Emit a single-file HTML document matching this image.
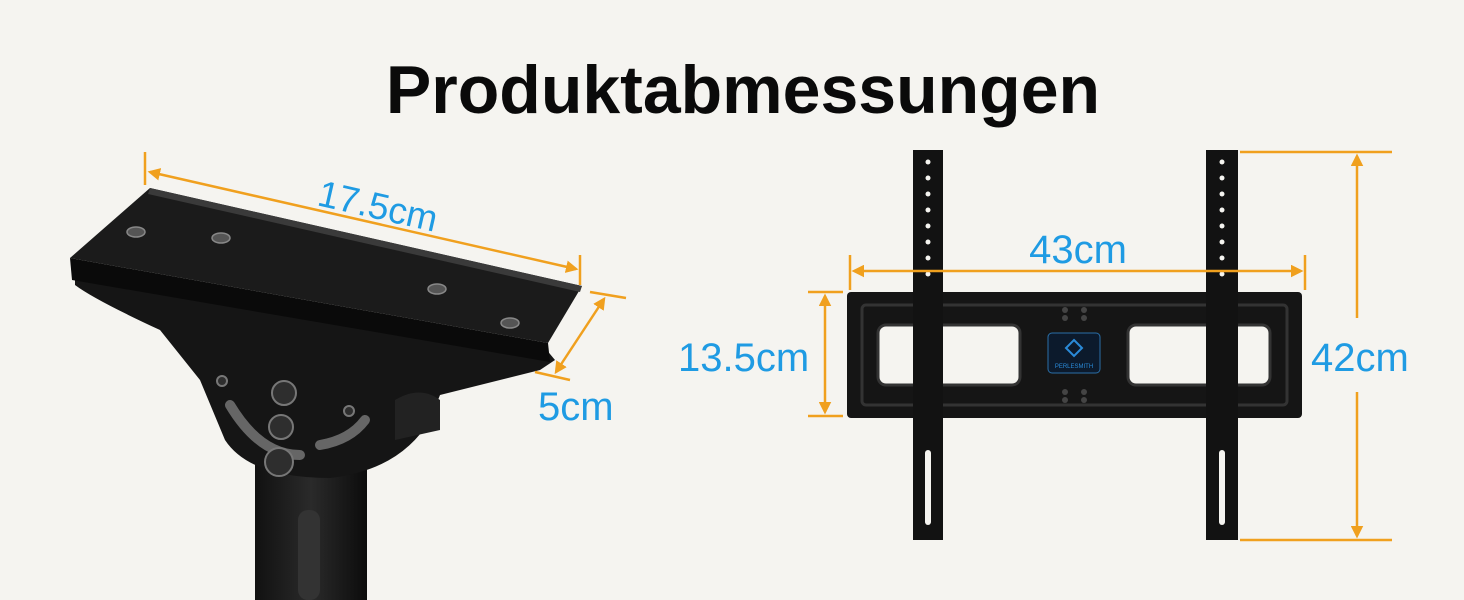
<!DOCTYPE html>
<html><head><meta charset="utf-8"><style>
html,body{margin:0;padding:0;background:#f5f4f0;}
svg{display:block}
text{font-family:"Liberation Sans",sans-serif}
</style></head><body>
<svg width="1464" height="600" viewBox="0 0 1464 600" xmlns="http://www.w3.org/2000/svg">
<defs>
<marker id="a" viewBox="0 0 10 10" refX="8" refY="5" markerWidth="5" markerHeight="5" orient="auto-start-reverse"><path d="M0,0L10,5L0,10z" fill="#f0a01e"/></marker>
<linearGradient id="pg" x1="0" x2="1"><stop offset="0" stop-color="#111"/><stop offset=".5" stop-color="#2a2a2a"/><stop offset="1" stop-color="#0c0c0c"/></linearGradient>
</defs>
<rect width="1464" height="600" fill="#f5f4f0"/>
<text x="743" y="113" text-anchor="middle" font-size="68" font-weight="bold" fill="#0a0a0a">Produktabmessungen</text>

<!-- LEFT MOUNT -->
<rect x="255" y="455" width="112" height="150" fill="url(#pg)"/>
<rect x="298" y="510" width="22" height="90" rx="10" fill="#333"/>
<path d="M75,268 L545,348 L555,360 L540,370 L440,395 L430,420 Q400,470 330,478 Q250,478 225,440 L200,380 L160,330 Q95,300 75,285 Z" fill="#151515"/>
<path d="M395,400 Q420,385 440,400 L440,430 L395,440 Z" fill="#222"/>
<path d="M150,188 L582,286 L548,343 L70,258 Z" fill="#1b1b1b"/>
<path d="M70,258 L548,343 L550,362 L72,280 Z" fill="#0a0a0a"/>
<path d="M150,188 L582,286 L580,292 L148,194 Z" fill="#3a3a3a"/>
<g fill="#555" stroke="#888" stroke-width="1.5">
<ellipse cx="136" cy="232" rx="9" ry="5"/><ellipse cx="221" cy="238" rx="9" ry="5"/>
<ellipse cx="437" cy="289" rx="9" ry="5"/><ellipse cx="510" cy="323" rx="9" ry="5"/>
</g>
<path d="M230,405 Q260,455 300,455" stroke="#666" stroke-width="10" fill="none" stroke-linecap="round"/>
<path d="M320,445 Q350,440 365,420" stroke="#666" stroke-width="10" fill="none" stroke-linecap="round"/>
<g fill="#2e2e2e" stroke="#777" stroke-width="2">
<circle cx="284" cy="393" r="12"/><circle cx="281" cy="427" r="12"/><circle cx="279" cy="462" r="14"/>
<circle cx="222" cy="381" r="5"/><circle cx="349" cy="411" r="5"/>
</g>
<!-- left dimensions -->
<g stroke="#f0a01e" stroke-width="2.5" fill="none">
<line x1="145" y1="152" x2="145" y2="185"/>
<line x1="580" y1="255" x2="580" y2="285"/>
<line x1="150" y1="172" x2="576" y2="269" marker-start="url(#a)" marker-end="url(#a)"/>
<line x1="590" y1="292" x2="626" y2="298"/>
<line x1="535" y1="372" x2="570" y2="380"/>
<line x1="604" y1="299" x2="556" y2="372" marker-start="url(#a)" marker-end="url(#a)"/>
</g>
<text x="0" y="0" font-size="37" fill="#1f9be3" transform="translate(316,205) rotate(12.8)">17.5cm</text>
<text x="538" y="420" font-size="40" fill="#1f9be3">5cm</text>

<!-- RIGHT MOUNT -->
<rect x="847" y="292" width="455" height="126" rx="4" fill="#151515"/>
<rect x="862" y="305" width="425" height="100" rx="4" fill="none" stroke="#333" stroke-width="3"/>
<rect x="878" y="325" width="142" height="60" rx="8" fill="#f5f4f0" stroke="#333" stroke-width="3"/>
<rect x="1128" y="325" width="142" height="60" rx="8" fill="#f5f4f0" stroke="#333" stroke-width="3"/>
<rect x="1048" y="333" width="52" height="40" rx="4" fill="#0c1a2c" stroke="#2a6fa8"/>
<path d="M1074,340 l8,8 l-8,8 l-8,-8z" fill="none" stroke="#2a8ad8" stroke-width="2"/>
<text x="1074" y="368" font-size="6" fill="#2a8ad8" text-anchor="middle">PERLESMITH</text>
<g fill="#444"><circle cx="1065" cy="310" r="3"/><circle cx="1084" cy="310" r="3"/><circle cx="1065" cy="318" r="3"/><circle cx="1084" cy="318" r="3"/>
<circle cx="1065" cy="392" r="3"/><circle cx="1084" cy="392" r="3"/><circle cx="1065" cy="400" r="3"/><circle cx="1084" cy="400" r="3"/></g>
<g>
<rect x="913" y="150" width="30" height="390" fill="#121212"/>
<rect x="1206" y="150" width="32" height="390" fill="#121212"/>
</g>
<g fill="#f5f4f0">
<circle cx="928" cy="162" r="2.5"/><circle cx="928" cy="178" r="2.5"/><circle cx="928" cy="194" r="2.5"/><circle cx="928" cy="210" r="2.5"/><circle cx="928" cy="226" r="2.5"/><circle cx="928" cy="242" r="2.5"/><circle cx="928" cy="258" r="2.5"/><circle cx="928" cy="274" r="2.5"/>
<circle cx="1222" cy="162" r="2.5"/><circle cx="1222" cy="178" r="2.5"/><circle cx="1222" cy="194" r="2.5"/><circle cx="1222" cy="210" r="2.5"/><circle cx="1222" cy="226" r="2.5"/><circle cx="1222" cy="242" r="2.5"/><circle cx="1222" cy="258" r="2.5"/><circle cx="1222" cy="274" r="2.5"/>
<rect x="925" y="450" width="6" height="75" rx="3"/><rect x="1219" y="450" width="6" height="75" rx="3"/>
</g>
<!-- right dims -->
<g stroke="#f0a01e" stroke-width="2.5" fill="none">
<line x1="850" y1="255" x2="850" y2="290"/><line x1="1305" y1="255" x2="1305" y2="290"/>
<line x1="854" y1="271" x2="1301" y2="271" marker-start="url(#a)" marker-end="url(#a)"/>
<line x1="808" y1="292" x2="843" y2="292"/><line x1="808" y1="416" x2="843" y2="416"/>
<line x1="825" y1="296" x2="825" y2="412" marker-start="url(#a)" marker-end="url(#a)"/>
<line x1="1240" y1="152" x2="1392" y2="152"/><line x1="1240" y1="540" x2="1392" y2="540"/>
<line x1="1357" y1="156" x2="1357" y2="318" marker-start="url(#a)"/>
<line x1="1357" y1="392" x2="1357" y2="536" marker-end="url(#a)"/>
</g>
<rect x="1026" y="230" width="104" height="38" fill="#f5f4f0"/>
<text x="1078" y="263" font-size="40" fill="#1f9be3" text-anchor="middle">43cm</text>
<text x="678" y="371" font-size="40" fill="#1f9be3">13.5cm</text>
<text x="1311" y="371" font-size="40" fill="#1f9be3">42cm</text>
</svg>
</body></html>
